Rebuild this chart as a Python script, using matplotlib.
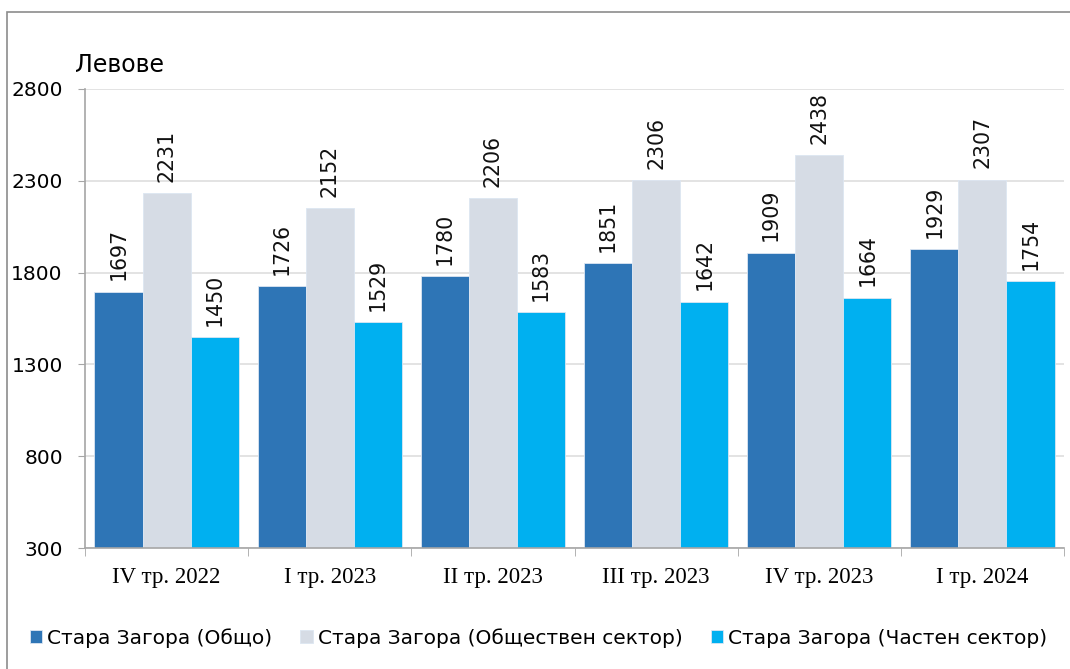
import numpy as np
import matplotlib
matplotlib.use("Agg")
import matplotlib.pyplot as plt
from matplotlib.patches import Rectangle

categories = ["IV тр. 2022", "I тр. 2023", "II тр. 2023", "III тр. 2023", "IV тр. 2023", "I тр. 2024"]
total = [1697, 1726, 1780, 1851, 1909, 1929]
public = [2231, 2152, 2206, 2306, 2438, 2307]
private = [1450, 1529, 1583, 1642, 1664, 1754]
series_names = ["Стара Загора (Общо)", "Стара Загора (Обществен сектор)", "Стара Загора (Частен сектор)"]
colors = ["#2E75B6", "#D6DCE5", "#00B0F0"]
yticks = [300, 800, 1300, 1800, 2300, 2800]

plt.rcParams["font.family"] = "DejaVu Sans"
fig = plt.figure(figsize=(10.7, 6.69), dpi=100)
ax = fig.add_axes([85 / 1070, 1 - 548 / 669, (1064 - 85) / 1070, (548 - 89) / 669])

# outer frame (only top/left visible in the reference)
fig.patches.append(Rectangle((7 / 1070, -0.1), 1.2, 1 - 12 / 669 + 0.1, transform=fig.transFigure,
                             fill=False, ec="#8c8c8c", lw=1.2))

x = np.arange(len(categories))
w = 0.295
for k, (vals, col) in enumerate(zip((total, public, private), colors)):
    bars = ax.bar(x + (k - 1) * w, np.array(vals) - 300, w, bottom=300, color=col,
                  edgecolor="#dce6f2", lw=0.6, label=series_names[k], zorder=2)
    for b, v in zip(bars, vals):
        ax.annotate(str(v), (b.get_x() + b.get_width() / 2, v), xytext=(0, 8), textcoords="offset points",
                    rotation=90, ha="center", va="bottom", fontsize=14.8, color="#111111")

ax.set_xlim(-0.5, len(categories) - 0.5)
ax.set_ylim(300, 2800)
ax.set_yticks(yticks)
ax.tick_params(axis="y", labelsize=14.5, length=5, color="#a6a6a6", pad=11)
ax.set_xticks(x)
ax.set_xticklabels(categories, fontfamily="Liberation Serif", fontsize=16.5)
ax.tick_params(axis="x", length=0, pad=14)
ax.set_xticks(np.arange(-0.5, len(categories)), minor=True)
ax.tick_params(axis="x", which="minor", length=6, color="#a6a6a6")
ax.yaxis.grid(True, color="#dedede", lw=1.2, zorder=0)
ax.set_axisbelow(True)
for s in ("top", "right"):
    ax.spines[s].set_visible(False)
for s in ("left", "bottom"):
    ax.spines[s].set_color("#a6a6a6")
    ax.spines[s].set_linewidth(1.2)

fig.text(75 / 1070, 1 - 65 / 669, "Левове", fontsize=17, ha="left", va="center")

fig.legend(loc="center left", bbox_to_anchor=(30 / 1070, 1 - 638 / 669), ncol=3, frameon=False,
           fontsize=14.5, handlelength=0.6, handleheight=0.6, handletextpad=0.25, columnspacing=1.4,
           borderpad=0, borderaxespad=0)

fig.savefig("out.png", dpi=100)
